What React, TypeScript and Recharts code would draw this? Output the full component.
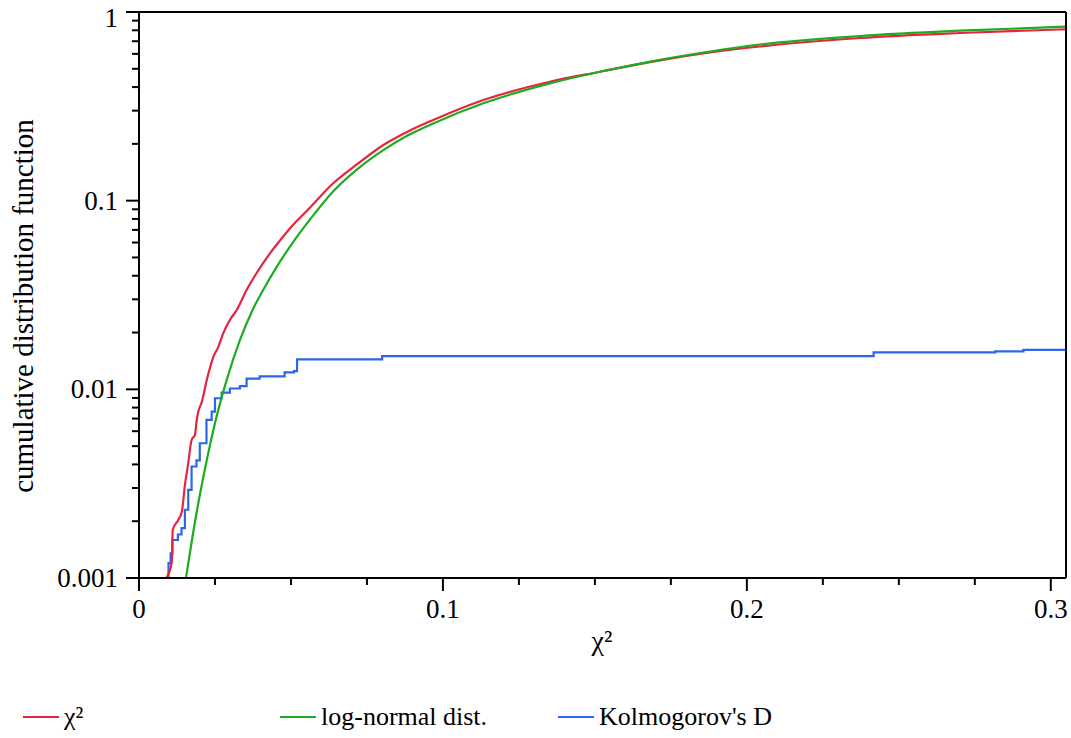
import * as React from "react";
import { LineChart, Line, XAxis, YAxis, ReferenceLine } from "recharts";

// empirical χ² cdf (x, cdf)
const CHI2_X = [0.009, 0.0108, 0.0111, 0.0129, 0.0141, 0.0151, 0.0162, 0.0173, 0.0184, 0.019, 0.0195, 0.0206,
  0.0223, 0.0245, 0.0261, 0.0277, 0.0299, 0.0322, 0.0354, 0.0387, 0.0431, 0.0464, 0.0497, 0.0563, 0.0639,
  0.0721, 0.0804, 0.0885, 0.0968, 0.1133, 0.1352, 0.1517, 0.1714, 0.1879, 0.2043, 0.2372, 0.2701, 0.3047];
const CHI2_Y = [0.001, 0.00122, 0.0018, 0.00203, 0.00225, 0.00311, 0.00406, 0.00539, 0.00573, 0.00688, 0.00761, 0.0085,
  0.0112, 0.0149, 0.0168, 0.0198, 0.0233, 0.0264, 0.0336, 0.04135, 0.0526, 0.0615, 0.0714, 0.092, 0.1236,
  0.1574, 0.1972, 0.2326, 0.2677, 0.3417, 0.4271, 0.4825, 0.5545, 0.6099, 0.6564, 0.728, 0.774, 0.8096];

// fitted log-normal cdf
const LOGN_X = [0.01546, 0.01875, 0.02204, 0.02533, 0.02886, 0.03323, 0.03718, 0.0409, 0.04541, 0.04968, 0.05692,
  0.06393, 0.07206, 0.08038, 0.08851, 0.09683, 0.1133, 0.1352, 0.1517, 0.1714, 0.1879, 0.2043, 0.2372,
  0.2701, 0.3047];
const LOGN_Y = [0.001, 0.00213, 0.00402, 0.00696, 0.01122, 0.01827, 0.02595, 0.03373, 0.04487, 0.05712, 0.08203,
  0.1122, 0.1479, 0.1854, 0.2221, 0.2567, 0.3281, 0.4188, 0.4825, 0.558, 0.6175, 0.6726, 0.7461,
  0.796, 0.8357];

// Kolmogorov's D (steps)
const KD_X = [0.0092, 0.0097, 0.0104, 0.011, 0.0128, 0.014, 0.0151, 0.0162, 0.0173, 0.0189, 0.02, 0.0222, 0.0239,
  0.025, 0.0272, 0.0299, 0.0332, 0.0354, 0.0397, 0.0479, 0.051, 0.052, 0.08, 0.2417, 0.2817, 0.291, 0.3048];
const KD_Y = [0.001, 0.0012, 0.00135, 0.00159, 0.0017, 0.00184, 0.0023, 0.00293, 0.0039, 0.0042, 0.00518, 0.00689,
  0.00762, 0.00897, 0.0096, 0.0101, 0.0104, 0.0114, 0.0117, 0.0123, 0.0125, 0.0144, 0.015, 0.0157, 0.0159,
  0.0162, 0.0162];

const Y_MAJOR = [0.001, 0.01, 0.1, 1];
const Y_LABELS = ["0.001", "0.01", "0.1", "1"];
const Y_MINOR = [2, 3, 4, 5, 6, 7, 8, 9];
const X_MAJOR = [0, 0.1, 0.2, 0.3];
const X_LABELS = ["0", "0.1", "0.2", "0.3"];
const X_MINOR = [0.025, 0.05, 0.075, 0.125, 0.15, 0.175, 0.225, 0.25, 0.275];

const SERIES = [
  { name: "χ²", color: "#e8233f" },
  { name: "log-normal dist.", color: "#1dac1d" },
  { name: "Kolmogorov's D", color: "#2b66ec" },
];

const pts = (xs: number[], ys: number[]) => xs.map((x, i) => ({ x, y: ys[i] }));
const chi2 = pts(CHI2_X, CHI2_Y);
const logn = pts(LOGN_X, LOGN_Y);
const kd = pts(KD_X, KD_Y);

const yTicks = [...Y_MAJOR, ...Y_MAJOR.slice(0, 3).flatMap((d) => Y_MINOR.map((m) => +(d * m).toPrecision(3)))];
const xTicks = [...X_MAJOR, ...X_MINOR];

const FONT = "'Liberation Serif', 'Times New Roman', serif";

function YTick({ x, y, payload }: any) {
  const idx = Y_MAJOR.indexOf(payload.value);
  const major = idx >= 0;
  // top label is pushed down so it stays inside the page
  const ty = Math.max(y + 9, 27);
  return (
    <g>
      <line x1={x} x2={x - (major ? 13 : 7)} y1={y} y2={y} stroke="#000" strokeWidth={2} />
      {major && (
        <text x={x - 21} y={ty} textAnchor="end" fontSize={27} fill="#000" fontFamily={FONT}>
          {Y_LABELS[idx]}
        </text>
      )}
    </g>
  );
}

function XTick({ x, y, payload }: any) {
  const idx = X_MAJOR.indexOf(payload.value);
  const major = idx >= 0;
  return (
    <g>
      <line x1={x} x2={x} y1={y} y2={y + (major ? 13 : 7)} stroke="#000" strokeWidth={2} />
      {major && (
        <text x={x} y={y + 40} textAnchor="middle" fontSize={27} fill="#000" fontFamily={FONT}>
          {X_LABELS[idx]}
        </text>
      )}
    </g>
  );
}

const YTitle = () => (
  <text x={33} y={306} transform="rotate(-90, 33, 306)" textAnchor="middle" fontSize={29} fill="#000" fontFamily={FONT}>
    cumulative distribution function
  </text>
);

const XTitle = () => (
  <text x={602} y={650} textAnchor="middle" fontSize={28} fill="#000" fontFamily={FONT}>
    χ²
  </text>
);

const LEGEND_LEFT = [23, 280, 558];

export default function App() {
  return (
    <div style={{ position: "absolute", left: 0, top: 0, width: 1071, height: 738, background: "#fff", fontFamily: FONT }}>
      <LineChart width={1071} height={738} margin={{ top: 12, right: 5, left: 0, bottom: 80 }}>
        <XAxis dataKey="x" type="number" domain={[0, 0.305]} ticks={xTicks} interval={0}
               tick={<XTick />} tickLine={false} tickSize={0} tickMargin={0} height={80}
               axisLine={{ stroke: "#000", strokeWidth: 2 }} allowDataOverflow label={<XTitle />} />
        <YAxis dataKey="y" type="number" scale="log" domain={[0.001, 1]} ticks={yTicks} interval={0}
               tick={<YTick />} tickLine={false} tickSize={0} tickMargin={0} width={139}
               axisLine={{ stroke: "#000", strokeWidth: 2 }} allowDataOverflow label={<YTitle />} />
        <ReferenceLine y={1} stroke="#000" strokeWidth={2} />
        <ReferenceLine x={0.305} stroke="#000" strokeWidth={2} />
        <Line data={kd} dataKey="y" type="stepAfter" stroke={SERIES[2].color} strokeWidth={2.2} dot={false} isAnimationActive={false} />
        <Line data={chi2} dataKey="y" type="monotone" stroke={SERIES[0].color} strokeWidth={2.2} dot={false} isAnimationActive={false} />
        <Line data={logn} dataKey="y" type="monotone" stroke={SERIES[1].color} strokeWidth={2.2} dot={false} isAnimationActive={false} />
      </LineChart>
      {SERIES.map((s, i) => (
        <div key={s.name} style={{ position: "absolute", left: LEGEND_LEFT[i], top: 702, display: "flex", alignItems: "center", fontSize: 26, color: "#000", whiteSpace: "nowrap" }}>
          <span style={{ display: "inline-block", width: 36, height: 2, background: s.color, marginRight: 5 }} />
          <span>{s.name}</span>
        </div>
      ))}
    </div>
  );
}
